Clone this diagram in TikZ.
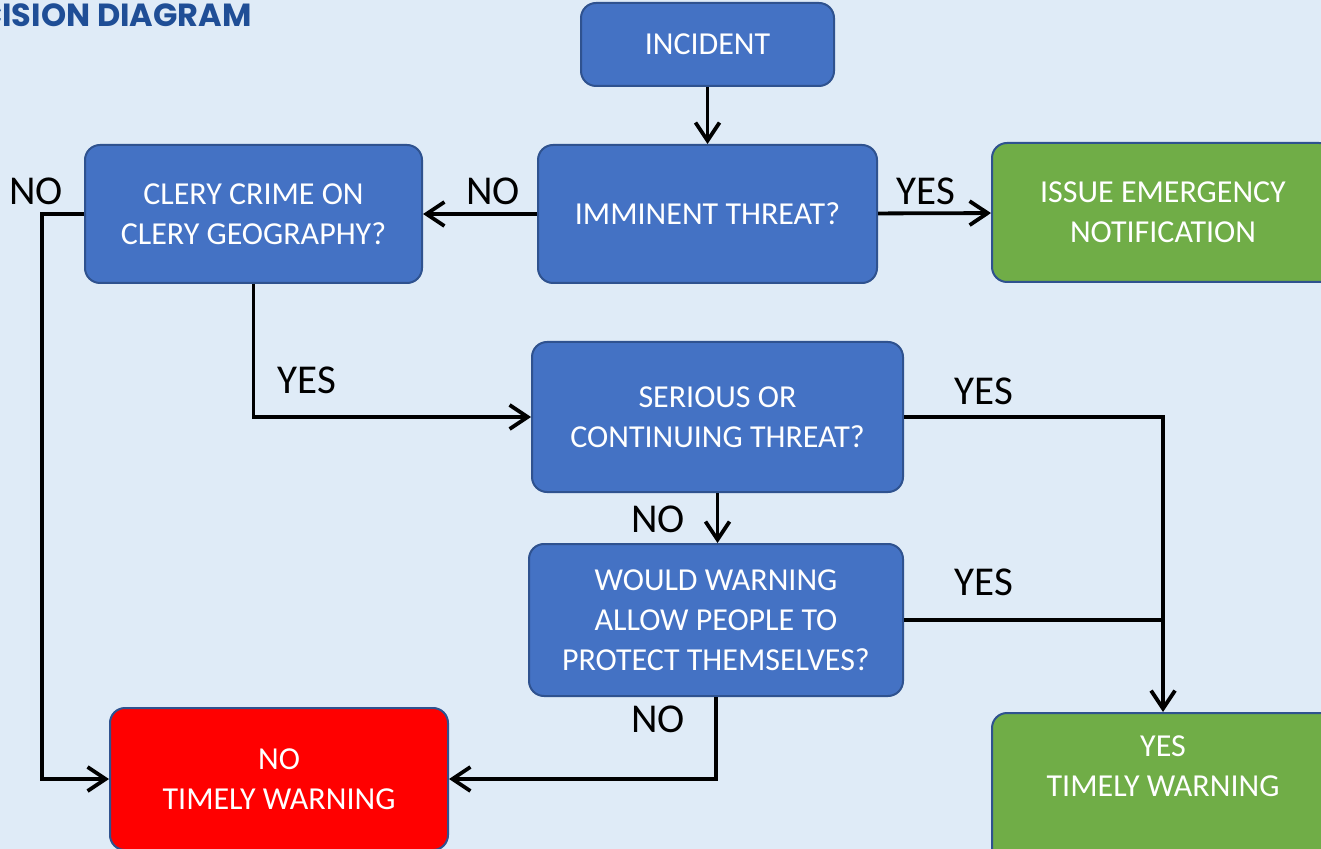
\documentclass[tikz,border=0pt]{standalone}
\usepackage{fontspec}
\setmainfont{Carlito}
\newfontfamily\titlefont{Poppins}
\usetikzlibrary{arrows.meta}
\definecolor{pagebg}{HTML}{DFEBF7}
\definecolor{boxblue}{HTML}{4472C4}
\definecolor{boxedge}{HTML}{2F528F}
\definecolor{boxgreen}{HTML}{70AD47}
\definecolor{titleblue}{HTML}{1F4E96}

\begin{document}
\begin{tikzpicture}[
          x=0.5pt,y=-0.5pt,
          box/.style={rectangle,rounded corners=7.5pt,draw=boxedge,line width=1pt,fill=boxblue,
            text=white,align=center,inner sep=0pt,font=\fontsize{16}{20}\selectfont},
          okbox/.style={box,fill=boxgreen},
          nobox/.style={box,fill=red},
          ans/.style={inner sep=0pt,font=\fontsize{20.5}{24}\selectfont},
          flow/.style={line width=1.9pt,-{Straight Barb[length=9pt,width=12pt,line width=1.9pt]}},
          link/.style={line width=1.9pt}
        ]
        \useasboundingbox (0,0) rectangle (1321,849);
        \clip (0,0) rectangle (1321,849);
        \fill[pagebg] (0,0) rectangle (1321,849);
        \node[anchor=base east,inner sep=0pt,text=titleblue,font=\titlefont\bfseries\fontsize{16}{18}\selectfont] (title) at (252,27) {DECISION DIAGRAM};
        % boxes
        \node[box,minimum width=126.5pt,minimum height=41.5pt] (incident) at (707.5,44.5) {INCIDENT};
        \node[box,minimum width=169.5pt,minimum height=69pt] (imminent) at (707.5,214) {IMMINENT THREAT?};
        \node[box,minimum width=168.5pt,minimum height=69pt] (clery) at (253.5,214) {CLERY CRIME ON\\CLERY GEOGRAPHY?};
        \node[okbox,minimum width=171pt,minimum height=69.5pt] (issue) at (1163,212.5) {ISSUE EMERGENCY\\NOTIFICATION};
        \node[box,minimum width=185.5pt,minimum height=75pt] (serious) at (717.5,417) {SERIOUS OR\\CONTINUING THREAT?};
        \node[box,minimum width=187pt,minimum height=76pt] (would) at (716,620) {WOULD WARNING\\ALLOW PEOPLE TO\\PROTECT THEMSELVES?};
        \node[nobox,minimum width=169pt,minimum height=71pt] (notw) at (279,779) {NO\\TIMELY WARNING};
        \node[okbox,minimum width=171pt,minimum height=76pt,anchor=north] (yestw) at (1163,712) {YES\\TIMELY WARNING\\[3pt]};
        % connectors
        \draw[flow] (incident) -- (imminent);
        \draw[flow] (imminent) -- (clery);
        \draw[flow] (imminent) -- (issue);
        \draw[flow] (clery.west) -- ++(-42,0) |- (notw.west);
        \draw[flow] (clery.south) |- (serious.west);
        \draw[flow] (serious.south) -- (serious.south |- would.north);
        \draw[flow] (serious.east) -| (yestw.north);
        \draw[link] (would.east) -- (would.east -| yestw.north);
        \draw[flow] (would.south) |- (notw.east);
        % answers
        \node[ans] (noimm) at (493,191) {NO};
        \node[ans] (yesimm) at (926,191) {YES};
        \node[ans] (noclery) at (36,191) {NO};
        \node[ans] (yesclery) at (307,380) {YES};
        \node[ans] (noser) at (658,519) {NO};
        \node[ans] (yesser) at (984,391) {YES};
        \node[ans] (yeswould) at (984,582) {YES};
        \node[ans] (nowould) at (658,719) {NO};
      \end{tikzpicture}
\end{document}
